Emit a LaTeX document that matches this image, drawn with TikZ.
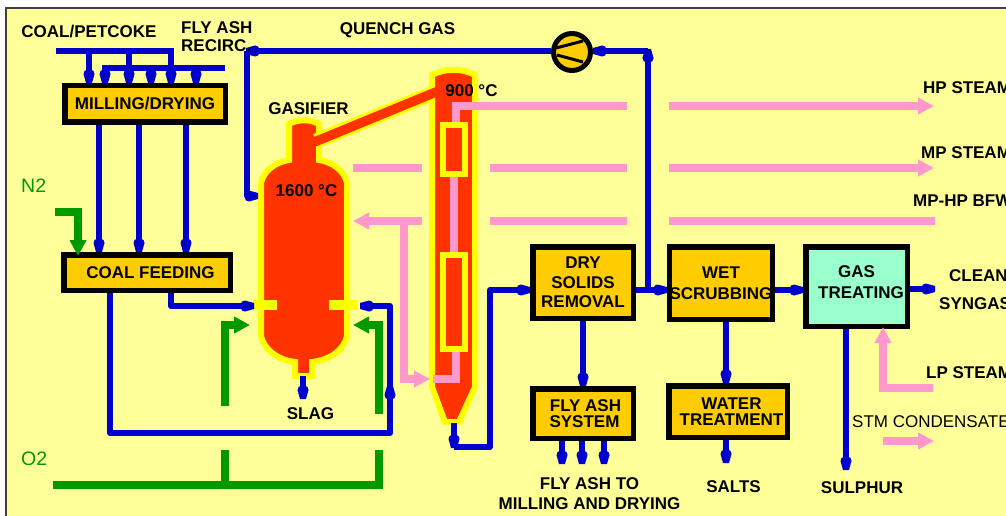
\documentclass[tikz,border=0pt]{standalone}
\usepackage{fontspec}
\setmainfont{Liberation Sans}
\usetikzlibrary{arrows.meta}
\definecolor{panelyellow}{HTML}{FFFF99}
\definecolor{boxorange}{HTML}{FFCC00}
\definecolor{boxgreen}{HTML}{99FFCC}
\definecolor{hotred}{HTML}{FF3300}
\definecolor{wallyellow}{HTML}{FFFF00}
\definecolor{streamblue}{HTML}{0000CC}
\definecolor{streamgreen}{HTML}{009900}
\definecolor{streampink}{HTML}{FF99CC}
% Blunt head of the blue streams
\pgfdeclarearrow{
        name=Blunt,
        setup code={
            \pgfarrowssettipend{0pt}
            \pgfarrowssetlineend{-7pt}
            \pgfarrowssetvisualbackend{-13pt}
            \pgfarrowssetbackend{-13pt}
            \pgfarrowshullpoint{0pt}{3pt}
            \pgfarrowshullpoint{0pt}{-3pt}
            \pgfarrowshullpoint{-9pt}{5.5pt}
            \pgfarrowshullpoint{-9pt}{-5.5pt}
        },
        drawing code={
            \pgfpathmoveto{\pgfpoint{0pt}{3pt}}
            \pgfpathlineto{\pgfpoint{-9pt}{5.5pt}}
            \pgfpathlineto{\pgfpoint{-12pt}{4.5pt}}
            \pgfpathlineto{\pgfpoint{-13pt}{2.5pt}}
            \pgfpathlineto{\pgfpoint{-13pt}{-2.5pt}}
            \pgfpathlineto{\pgfpoint{-12pt}{-4.5pt}}
            \pgfpathlineto{\pgfpoint{-9pt}{-5.5pt}}
            \pgfpathlineto{\pgfpoint{0pt}{-3pt}}
            \pgfpathclose
            \pgfusepathqfill
        }
}
\begin{document}
\begin{tikzpicture}[
        x=1pt, y=-1pt,
        unit/.style={draw=black, line width=5.5pt, fill=boxorange, inner sep=0pt, align=center, font=\bfseries\fontsize{17}{17}\selectfont}, % Box styling
        tag/.style={inner sep=0pt, align=center, font=\bfseries\fontsize{17}{18.5}\selectfont}, % Bold labels
        plaintag/.style={inner sep=0pt, anchor=west, font=\fontsize{17}{17}\selectfont},
        gastag/.style={inner sep=0pt, anchor=west, text=streamgreen, font=\fontsize{19.5}{19.5}\selectfont},
        blueline/.style={draw=streamblue, line width=6pt, line join=round, >={Blunt}}, % Arrow styling
        greenline/.style={draw=streamgreen, line width=8pt, >={Triangle[length=16pt,width=16pt]}},
        pinkline/.style={draw=streampink, line width=8pt, >={Triangle[length=16pt,width=16pt]}},
        vessel/.style={draw=wallyellow, fill=hotred, line width=6pt}
        ]
        \useasboundingbox (0,0) rectangle (1006,516);
        \draw[fill=panelyellow, draw=black!75, line width=1.5pt] (6,8) rectangle (1020,530);

        % Define nodes
        \node (milling) [unit, minimum width=160.5pt, minimum height=36.5pt] at (145,104) {MILLING/DRYING};
        \node (feeding) [unit, minimum width=166.5pt, minimum height=35.5pt] at (147,272.5) {\hspace*{7pt}COAL FEEDING};
        \node (drysolids) [unit, minimum width=100.5pt, minimum height=71.5pt] at (583,282.5) {DRY\\[2.5pt]SOLIDS\\[2.5pt]REMOVAL};
        \node (scrubbing) [unit, minimum width=102.5pt, minimum height=72.5pt] at (721,283) {WET\\[4pt]SCRUBBING};
        \node (treating) [unit, fill=boxgreen, minimum width=101.5pt, minimum height=79.5pt, text depth=8pt] at (856.5,286.5) {GAS\\[4pt]\hspace*{9pt}TREATING};
        \node (flyash) [unit, minimum width=100.5pt, minimum height=49.5pt] at (583,413.5) {\hspace*{5pt}FLY ASH\\[-1pt]\hspace*{3pt}SYSTEM};
        \node (water) [unit, minimum width=118.5pt, minimum height=51.5pt] at (728,411.5) {\hspace*{7pt}WATER\\[-1pt]\hspace*{7pt}TREATMENT};
        \node (compressor) [circle, draw=black, line width=5pt, fill=boxorange, minimum size=37pt, inner sep=0pt] at (572,52) {};

        % Draw gasifier
        \draw[vessel] (261,183) .. controls (264,170) and (276,162) .. (289,160) -- (289,124)
            .. controls (298,119) and (310,119) .. (319,124) -- (319,160)
            .. controls (332,162) and (344,170) .. (347,183) -- (347,336)
            .. controls (344,350) and (330,360) .. (312,362) -- (312,376) -- (295,376) -- (295,362)
            .. controls (278,360) and (264,350) .. (261,336) -- cycle;
        \fill[wallyellow] (253,300) rectangle (277,310);
        \fill[wallyellow] (329,300) rectangle (358,310);

        % Draw cooler
        \draw[wallyellow, line width=15pt] (316,141) -- (436,92);
        \draw[vessel] (432,75) .. controls (445,68) and (462,68) .. (475,75) -- (475,387)
            -- (459,422) -- (445,422) -- (432,387) -- cycle;
        \draw[hotred, line width=9.5pt] (312,143) -- (442,89.5);
        \draw[vessel] (443,125) rectangle (465,174);
        \draw[vessel] (443,255) rectangle (465,349);

        % Draw pink streams
        \draw[pinkline, line join=miter] (456,122) -- (456,106) -- (627,106);
        \draw[pinkline, ->] (669,106) -- (934,106);
        \draw[pinkline] (454,177) -- (454,252);
        \draw[pinkline, line join=miter] (456,352) -- (456,379) -- (433,379);
        \draw[pinkline] (353,168) -- (422,168);
        \draw[pinkline] (490,168) -- (627,168);
        \draw[pinkline, ->] (669,168) -- (934,168);
        \draw[pinkline] (935,221) -- (669,221);
        \draw[pinkline] (627,221) -- (490,221);
        \draw[pinkline, ->] (422,221) -- (353,221);
        \draw[pinkline, ->, line join=miter] (404,221) -- (404,379) -- (430,379);
        \draw[pinkline, ->, line join=miter] (933,388) -- (883,388) -- (883,327);
        \draw[pinkline, ->] (883,441) -- (934,441);

        % Draw green streams
        \draw[greenline, ->, line join=miter] (55,212) -- (78,212) -- (78,256);
        \draw[greenline, ->, line join=miter] (225,406) -- (225,325) -- (250,325);
        \draw[greenline, ->, line join=miter] (379,414) -- (379,325) -- (353,325);
        \draw[greenline] (53,485) -- (383,485);
        \draw[greenline] (225,450) -- (225,485);
        \draw[greenline] (379,450) -- (379,485);

        % Draw arrows
        \draw[blueline] (56,51) -- (174,51);
        \draw[blueline] (102,68) -- (225,68);
        \draw[blueline, ->] (89,51) -- (89,0 |- milling.north);
        \draw[blueline, ->] (129,51) -- (129,0 |- milling.north);
        \draw[blueline, ->] (171,51) -- (171,0 |- milling.north);
        \draw[blueline, ->] (105,68) -- (105,0 |- milling.north);
        \draw[blueline, ->] (151,68) -- (151,0 |- milling.north);
        \draw[blueline, ->] (196,68) -- (196,0 |- milling.north);

        \draw[blueline, ->] (99,0 |- milling.south) -- (99,0 |- feeding.north);
        \draw[blueline, ->] (139,0 |- milling.south) -- (139,0 |- feeding.north);
        \draw[blueline, ->] (186,0 |- milling.south) -- (186,0 |- feeding.north);

        \draw[blueline, ->] (171,0 |- feeding.south) |- (254,306);
        \draw[blueline, ->] (110,0 |- feeding.south) |- (390,433) -- (390,386);
        \draw[blueline, ->] (390,392) |- (360,306);

        \draw[blueline, ->] (compressor.west |- 0,51) -- (246,51);
        \draw[blueline, ->] (247,51) |- (258,196);
        \draw[blueline, ->] (648,290) -- (648,49);
        \draw[blueline, ->] (648,51) -- (compressor.east |- 0,51);

        \draw[blueline, ->] (303,376) -- (303,399);
        \draw[blueline, ->] (454,423) -- (454,448);
        \draw[blueline, ->] (454,447) -| (490,290) -- (drysolids.west |- 0,290);
        \draw[blueline, ->] (drysolids.east |- 0,290) -- (scrubbing.west |- 0,290);
        \draw[blueline, ->] (scrubbing.east |- 0,290) -- (treating.west |- 0,290);
        \draw[blueline, ->] (treating.east |- 0,289) -- (935,289);

        \draw[blueline, ->] (drysolids.south) -- (flyash.north);
        \draw[blueline, ->] (562,0 |- flyash.south) -- (562,464);
        \draw[blueline, ->] (582,0 |- flyash.south) -- (582,464);
        \draw[blueline, ->] (604,0 |- flyash.south) -- (604,464);
        \draw[blueline, ->] (726,0 |- scrubbing.south) -- (726,0 |- water.north);
        \draw[blueline, ->] (726,0 |- water.south) -- (726,463);
        \draw[blueline, ->] (846,0 |- treating.south) -- (846,470);

        % Compressor blades
        \draw[black, line width=3pt] (556,48) -- (583,41);
        \draw[black, line width=3pt] (557,55) -- (583,62);

        % Labels
        \node (coallabel) [tag] at (89,32) {COAL/PETCOKE};
        \node (recirclabel) [tag, anchor=west, align=left] at (181,36.5) {FLY ASH\\RECIRC.};
        \node (quenchlabel) [tag] at (397.5,30) {QUENCH GAS};
        \node (gasifierlabel) [tag] at (308.5,109) {GASIFIER};
        \node (hotlabel) [tag] at (306.5,191) {1600 °C};
        \node (warmlabel) [tag] at (471.5,91) {900 °C};
        \node (slaglabel) [tag] at (310.5,414) {SLAG};
        \node (nitrogenlabel) [gastag] at (21,186) {N2};
        \node (oxygenlabel) [gastag] at (21,459) {O2};
        \node (hplabel) [tag, anchor=west] at (923,88) {HP STEAM};
        \node (mplabel) [tag, anchor=west] at (921,153) {MP STEAM};
        \node (bfwlabel) [tag, anchor=west] at (913,201) {MP-HP BFW};
        \node (cleanlabel) [tag, anchor=west] at (949,276) {CLEAN};
        \node (syngaslabel) [tag, anchor=west] at (939,304) {SYNGAS};
        \node (lplabel) [tag, anchor=west] at (926,373) {LP STEAM};
        \node (condensatelabel) [plaintag] at (852,422) {STM CONDENSATE};
        \node (sulphurlabel) [tag] at (862,488) {SULPHUR};
        \node (saltslabel) [tag] at (733.5,487) {SALTS};
        \node (fatolabel) [tag] at (589.5,484) {FLY ASH TO};
        \node (drylabel) [tag] at (589.5,504) {MILLING AND DRYING};
    \end{tikzpicture}
\end{document}
